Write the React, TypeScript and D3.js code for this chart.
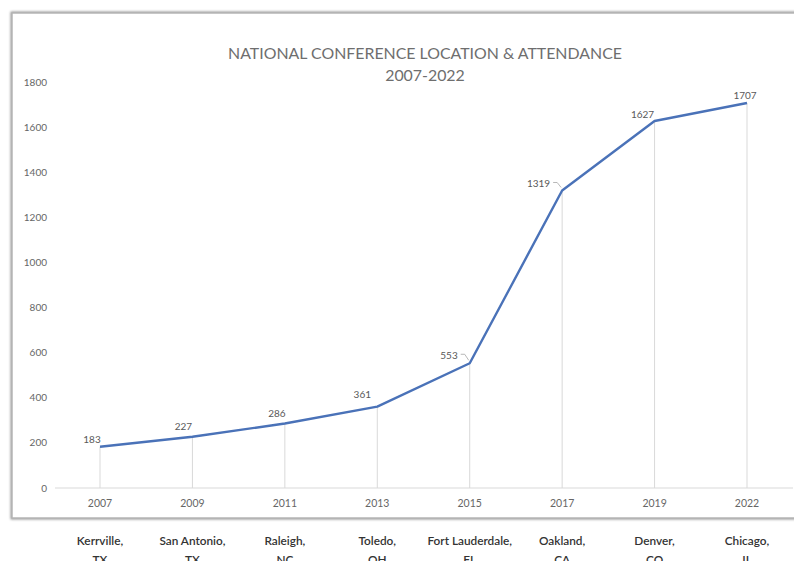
import React from "react";
import * as d3 from "d3";

const years = ["2007", "2009", "2011", "2013", "2015", "2017", "2019", "2022"];
const attendance = [183, 227, 286, 361, 553, 1319, 1627, 1707];
const cities = ["Kerrville,", "San Antonio,", "Raleigh,", "Toledo,", "Fort Lauderdale,", "Oakland,", "Denver,", "Chicago,"];
const states = ["TX", "TX", "NC", "OH", "FL", "CA", "CO", "IL"];
const yTicks = [0, 200, 400, 600, 800, 1000, 1200, 1400, 1600, 1800];
const titleLines = ["NATIONAL CONFERENCE LOCATION & ATTENDANCE", "2007-2022"];

// label placement (layout only)
const labelDx = [-8, -9, -8, -15, -22, -28, -12, -2];
const labelDy = [-7, -10, -10, -12, -8, -7, -7, -7];
const leader = [false, false, false, false, true, true, false, false];

const W = 794;
const H = 561;
const FONT = "Lato, 'Open Sans', sans-serif";

export default function App() {
  const x = d3.scalePoint<string>().domain(years).range([100, 747]);
  const y = d3.scaleLinear().domain([0, 1800]).range([488, 82]);
  const line = d3
    .line<number>()
    .x((_, i) => x(years[i]) as number)
    .y((d) => y(d));

  return (
    <svg
      width={W}
      height={H}
      style={{ position: "absolute", left: 0, top: 0, background: "#fff" }}
      fontFamily={FONT}
    >
      <defs>
        <filter id="sh" x="-5%" y="-5%" width="110%" height="110%">
          <feGaussianBlur stdDeviation="1.2" />
        </filter>
      </defs>
      {/* frame */}
      <rect x={12} y={13} width={820} height={505} fill="none" stroke="#9a9a9a" strokeWidth={3} filter="url(#sh)" />
      <rect x={12} y={13} width={820} height={505} fill="#fff" stroke="#b5b5b5" strokeWidth={1.5} />

      {/* title */}
      {titleLines.map((t, i) => (
        <text key={i} x={425} y={59 + i * 22} textAnchor="middle" fontSize={15.9} fill="#6e6e6e">
          {t}
        </text>
      ))}

      {/* y axis labels */}
      {yTicks.map((t) => (
        <text key={t} x={47} y={y(t)} dy="0.35em" textAnchor="end" fontSize={10} fill="#666">
          {t}
        </text>
      ))}

      {/* baseline */}
      <line x1={55} x2={793} y1={y(0)} y2={y(0)} stroke="#d9d9d9" strokeWidth={1} />

      {/* drop lines */}
      {attendance.map((v, i) => (
        <line
          key={i}
          x1={x(years[i])}
          x2={x(years[i])}
          y1={y(v)}
          y2={y(0)}
          stroke="#d9d9d9"
          strokeWidth={1}
        />
      ))}

      {/* year labels */}
      {years.map((yr) => (
        <text key={yr} x={x(yr)} y={507} textAnchor="middle" fontSize={10.5} fill="#666">
          {yr}
        </text>
      ))}

      {/* line */}
      <path d={line(attendance) || ""} fill="none" stroke="#4a72b8" strokeWidth={2.4} strokeLinejoin="round" />

      {/* data labels */}
      {attendance.map((v, i) => {
        const px = x(years[i]) as number;
        const py = y(v);
        if (leader[i]) {
          const lx = px - 12;
          const ly = py + labelDy[i];
          return (
            <g key={i}>
              <text x={lx} y={ly} dy="0.35em" textAnchor="end" fontSize={10} fill="#595959">
                {v}
              </text>
              <path
                d={`M${lx + 3},${ly - 1} L${lx + 7},${ly - 1} L${px - 1},${py - 3}`}
                fill="none"
                stroke="#a6a6a6"
                strokeWidth={0.8}
              />
            </g>
          );
        }
        return (
          <text key={i} x={px + labelDx[i]} y={py + labelDy[i]} dy="0.35em" textAnchor="middle" fontSize={10} fill="#595959">
            {v}
          </text>
        );
      })}

      {/* location labels */}
      {cities.map((c, i) => (
        <g key={i}>
          <text x={x(years[i])} y={545} textAnchor="middle" fontSize={11.8} fontWeight={600} fill="#333">
            {c}
          </text>
          <text x={x(years[i])} y={564} textAnchor="middle" fontSize={11.8} fontWeight={600} fill="#333">
            {states[i]}
          </text>
        </g>
      ))}
    </svg>
  );
}
